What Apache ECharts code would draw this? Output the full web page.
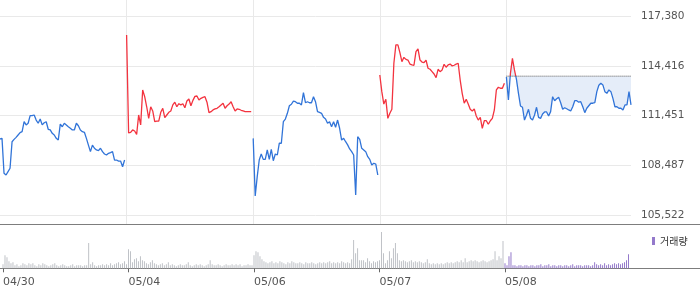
<!DOCTYPE html>
<html><head><meta charset="utf-8">
<script src="https://cdn.jsdelivr.net/npm/echarts@6/dist/echarts.min.js"></script>
<style>html,body{margin:0;padding:0;background:#fff}#c{width:700px;height:289px}</style>
</head><body><div id="c"></div>
<script>
const days = ['04/30','05/04','05/06','05/07','05/08'];
const yTicks = [105522, 108487, 111451, 114416, 117380];
const prevClose = 113800;
const legendName = '거래량';

const day1Price = [110060,110100,108020,107920,108120,108320,109900,110040,110160,110300,
 110440,110500,111090,110900,111000,111450,111450,111490,111190,111000,
 111250,110900,111030,111090,110640,110600,110400,110300,110100,110000,
 110950,110790,111000,110900,110790,110700,110600,110600,111000,110850,
 110600,110500,110460,110100,109700,109310,109700,109510,109410,109370,
 109510,109310,109170,109110,109210,109250,109310,108810,108810,108750,
 108750,108410,108810];
const day2Price = [116250,110420,110460,110600,110540,110340,111490,110900,112980,112580,
 111980,111290,111980,111730,111090,111130,111130,111650,111890,111330,
 111490,111650,111730,112090,112250,111980,112160,112090,112160,111920,
 112320,112440,112040,112360,112600,112620,112380,112480,112540,112580,
 112250,111630,111690,111790,111850,111890,111980,112090,112190,111890,
 112040,112140,112280,111980,111730,111850,111830,111770,111730,111690,
 111690,111690,111690];
const day3Price = [110100,106670,107820,108810,109170,108850,108850,109410,108850,109450,
 108770,109170,109110,109810,109810,111090,111250,111590,112040,112130,
 112320,112280,112190,112190,112090,112820,112220,112280,112220,112220,
 112580,112280,111690,111650,111590,111350,111250,111000,111090,110790,
 111090,110760,111190,110700,110000,110100,109900,109710,109470,109310,
 109110,106730,110200,110040,109510,109410,109310,109010,108850,108520,
 108620,108570,107920];
const day4Price = [113870,112880,112140,112420,111290,111590,111830,114570,115660,115660,
 115200,114660,114920,114800,114760,114520,114470,114450,115260,115420,
 114760,114640,114600,114760,114270,114210,114070,113930,113710,114210,
 114070,114170,114510,114330,114470,114520,114410,114450,114520,114570,
 113570,112780,112190,112420,112140,111830,111730,111850,111430,111190,
 111350,110700,111150,111150,110940,111150,111290,111790,112980,113140,
 113080,113080,113380];
const day5Price = [113750,112380,113970,114860,114170,113610,112780,112030,111950,111190,
 111490,111830,111290,111190,111490,111950,111350,111290,111550,111670,
 111670,111430,111690,112580,112340,112460,112540,112220,111830,111920,
 111860,111790,111730,111980,112340,112340,112250,112280,111980,111630,
 111890,112040,112190,112190,112220,112880,113260,113380,113280,112880,
 112780,112980,112880,112480,111980,111980,111890,111890,111790,112090,
 112090,112880,112090];

const day1Vol = [4,13,11,7,5,6,3,4,2,3, 5,4,3,5,4,5,3,2,4,3, 5,4,3,2,3,4,5,3,2,3,
 4,3,2,2,3,4,2,3,3,3, 2,3,3,25,4,6,3,2,3,3, 4,3,4,3,5,3,4,5,6,4, 5,7,4];
const day2Vol = [19,17,6,9,10,7,12,8,7,5, 4,6,8,5,4,3,4,5,3,4, 6,3,4,3,2,3,4,3,3,4,
 6,3,2,3,4,3,4,3,2,3, 4,8,4,3,3,4,3,2,3,4, 3,3,4,3,4,3,4,2,3,3, 4,3,3];
const day3Vol = [13,17,16,12,9,7,6,5,6,7, 5,6,5,7,6,5,4,6,5,7, 6,5,5,6,5,4,6,5,5,6,
 5,4,5,6,5,6,5,6,7,5, 6,5,6,5,7,6,5,6,5,9, 28,15,20,8,8,8,6,10,7,5, 7,6,7];
const day4Vol = [8,36,15,5,8,17,10,20,25,15, 8,7,8,7,6,7,8,6,7,6, 7,6,5,6,9,5,4,5,4,5,
 4,5,4,5,6,5,6,5,6,7, 6,8,6,10,6,7,8,7,8,7, 6,7,8,7,6,7,8,9,17,8, 12,10,27];
const day5Vol = [5,3,12,16,3,3,2,3,3,2, 3,3,2,3,3,2,3,3,4,2, 3,3,4,2,3,3,2,3,3,2,
 3,3,2,3,4,2,3,3,3,2, 3,3,3,2,3,6,4,3,4,3, 5,3,4,3,4,5,4,5,4,5, 6,8,14];

const RED = '#f3333f', BLUE = '#3174d8', FILL = '#e5edf9', GRAY = '#bfc2c7', PURPLE = '#9479cb';
const PER_DAY = 63;
const N = days.length * PER_DAY;
const categories = [];
days.forEach(d => { for (let i = 0; i < PER_DAY; i++) categories.push(d + '#' + i); });
function place(arr, d) { const out = new Array(N).fill(null); arr.forEach((v, i) => { out[d * PER_DAY + i] = v; }); return out; }
const dayStart = (idx) => idx % PER_DAY === 0;
const fmt = v => { let best = yTicks[0]; yTicks.forEach(t => { if (Math.abs(t - v) < Math.abs(best - v)) best = t; }); return best.toLocaleString('en-US'); };

const lineBase = (data, color) => ({
  type: 'line', xAxisIndex: 0, yAxisIndex: 0, data, showSymbol: false, symbol: 'none',
  lineStyle: { width: 1.3, color }, itemStyle: { color }, connectNulls: false, silent: true, z: 3
});
const pastVol = new Array(N).fill(null);
[day1Vol, day2Vol, day3Vol, day4Vol].forEach((a, d) => a.forEach((v, i) => { pastVol[d * PER_DAY + i] = v; }));
const refLine = place(day5Price.map(() => prevClose), 4);

const chart = echarts.init(document.getElementById('c'), null, { renderer: 'canvas' });
chart.setOption({
  animation: false,
  textStyle: { fontFamily: 'DejaVu Sans' },
  grid: [
    { left: 0, right: 69, top: 16, height: 199.3 },
    { left: 0.5, width: 628, top: 228, height: 40.3 },
    { left: 0, right: 69, top: 0, height: 224 },
    { left: 0, right: 0, top: 224, height: 44.3 }
  ],
  xAxis: [
    { gridIndex: 0, type: 'category', data: categories, boundaryGap: false, axisLine: { show: false }, axisTick: { show: false }, axisLabel: { show: false }, splitLine: { show: false } },
    { gridIndex: 1, type: 'category', data: categories, boundaryGap: false, axisLine: { show: false },
      axisTick: { show: true, length: 4, interval: (i) => dayStart(i), lineStyle: { color: '#666' } },
      axisLabel: { interval: (i) => dayStart(i), formatter: v => v.split('#')[0], align: 'left', margin: 8, fontSize: 11, color: '#555', fontFamily: 'DejaVu Sans' },
      splitLine: { show: false } },
    { gridIndex: 2, type: 'category', data: categories, boundaryGap: false, axisLine: { show: false }, axisTick: { show: false }, axisLabel: { show: false },
      splitLine: { show: true, interval: (i) => dayStart(i) && i > 0, lineStyle: { color: '#e9e9e9', width: 1 } } },
    { gridIndex: 3, type: 'value', position: 'top', axisLine: { show: true, onZero: false, lineStyle: { color: '#7d7d7d', width: 1 } }, axisTick: { show: false }, axisLabel: { show: false }, splitLine: { show: false } },
    { gridIndex: 3, type: 'value', position: 'bottom', axisLine: { show: true, onZero: false, lineStyle: { color: '#7d7d7d', width: 1 } }, axisTick: { show: false }, axisLabel: { show: false }, splitLine: { show: false } }
  ],
  yAxis: [
    { gridIndex: 0, type: 'value', position: 'right', min: yTicks[0], max: yTicks[yTicks.length - 1], interval: (yTicks[yTicks.length - 1] - yTicks[0]) / (yTicks.length - 1),
      axisLine: { show: false }, axisTick: { show: false },
      axisLabel: { formatter: fmt, margin: 10, fontSize: 10.5, color: '#555', fontFamily: 'DejaVu Sans' },
      splitLine: { show: true, lineStyle: { color: '#e9e9e9', width: 1 } } },
    { gridIndex: 1, type: 'value', min: 0, max: 40, show: false, splitLine: { show: false } },
    { gridIndex: 2, type: 'value', show: false, splitLine: { show: false } },
    { gridIndex: 3, type: 'value', show: false, splitLine: { show: false } }
  ],
  legend: {
    data: [legendName], left: 647, top: 231, icon: 'rect', itemWidth: 3, itemHeight: 8, selectedMode: false,
    textStyle: { fontSize: 10, color: '#333', fontFamily: 'Noto Sans CJK KR' }
  },
  series: [
    lineBase(place(day1Price, 0), BLUE),
    lineBase(place(day2Price, 1), RED),
    lineBase(place(day3Price, 2), BLUE),
    lineBase(place(day4Price, 3), RED),
    Object.assign(lineBase(place(day5Price, 4), BLUE), {
      id: 'day5',
      areaStyle: { color: FILL, opacity: 1, origin: prevClose }
    }),
    { type: 'line', id: 'prev', xAxisIndex: 0, yAxisIndex: 0, data: refLine, showSymbol: false, symbol: 'none', silent: true, z: 4,
      lineStyle: { type: 'dotted', color: '#555', width: 1 } },
    { type: 'bar', name: 'past', xAxisIndex: 1, yAxisIndex: 1, data: pastVol, barWidth: 1, barGap: '-100%', itemStyle: { color: GRAY }, silent: true },
    { type: 'bar', name: legendName, xAxisIndex: 1, yAxisIndex: 1, data: place(day5Vol, 4), barWidth: 1, barGap: '-100%', itemStyle: { color: PURPLE }, silent: true }
  ]
});
// colour the current day red above the previous close and blue below it
const yPrev = chart.convertToPixel({ yAxisIndex: 0 }, prevClose);
const H = chart.getHeight();
const p = Math.max(0, Math.min(1, yPrev / H));
chart.setOption({ series: [{ id: 'day5', lineStyle: { color: {
  type: 'linear', x: 0, y: 0, x2: 0, y2: H, global: true,
  colorStops: [{ offset: 0, color: RED }, { offset: p, color: RED }, { offset: p, color: BLUE }, { offset: 1, color: BLUE }]
} } }] });
</script>
</body></html>
